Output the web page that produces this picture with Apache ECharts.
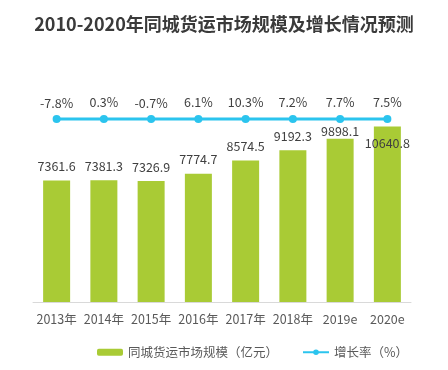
<!DOCTYPE html>
<html><head><meta charset="utf-8">
<script src="https://cdn.jsdelivr.net/npm/echarts@6/dist/echarts.min.js"></script>
<style>html,body{margin:0;padding:0;background:#fff}#c{width:448px;height:370px}</style>
</head><body><div id="c"></div>
<script>
const titleText = '2010-2020年同城货运市场规模及增长情况预测';
const categories = ['2013年','2014年','2015年','2016年','2017年','2018年','2019e','2020e'];
const marketSize = [7361.6, 7381.3, 7326.9, 7774.7, 8574.5, 9192.3, 9898.1, 10640.8];
const growthRate = [-7.8, 0.3, -0.7, 6.1, 10.3, 7.2, 7.7, 7.5];
const seriesNames = ['同城货运市场规模（亿元）', '增长率（%）'];

const FONT = '"Noto Sans CJK SC", "Microsoft YaHei", sans-serif';
const chart = echarts.init(document.getElementById('c'), null, {renderer: 'canvas'});

const barData = marketSize.map((v, i) => {
  const item = {value: v};
  if (i === 6) item.label = {distance: 1};
  if (i === 7) item.label = {position: 'insideTop', distance: 11};
  return item;
});

chart.setOption({
  backgroundColor: '#fff',
  animation: false,
  textStyle: {fontFamily: FONT},
  title: {
    text: titleText, left: 'center', top: 10,
    textStyle: {fontSize: 18, fontWeight: 'bold', color: '#3a3a3a', fontFamily: FONT}
  },
  legend: {
    left: 92, top: 341, itemWidth: 26, itemHeight: 7, itemGap: 24,
    textStyle: {fontSize: 12.5, color: '#595959', fontFamily: FONT},
    data: seriesNames
  },
  grid: [
    {left: 33, right: 37, top: 104, bottom: 68},
    {left: 33, right: 37, top: 118, height: 2}
  ],
  xAxis: [
    {type: 'category', gridIndex: 0, data: categories,
     axisLine: {lineStyle: {color: '#d9d9d9', width: 1}}, axisTick: {show: false},
     axisLabel: {interval: 0, fontSize: 12.5, color: '#595959', margin: 11, fontFamily: FONT}},
    {type: 'category', gridIndex: 1, data: categories, show: false}
  ],
  yAxis: [
    {type: 'value', gridIndex: 0, min: 0, max: 12000, show: false, splitLine: {show: false}},
    {type: 'value', gridIndex: 1, min: -100, max: 100, show: false, splitLine: {show: false}}
  ],
  series: [
    {name: seriesNames[0], type: 'bar', xAxisIndex: 0, yAxisIndex: 0, data: barData,
     barWidth: 27, itemStyle: {color: '#a9cb35'},
     label: {show: true, position: 'top', distance: 8, fontSize: 12.5, color: '#404040', fontFamily: FONT}},
    {name: seriesNames[1], type: 'line', xAxisIndex: 1, yAxisIndex: 1, data: growthRate,
     symbol: 'circle', symbolSize: 8, lineStyle: {color: '#2bc4ee', width: 3},
     itemStyle: {color: '#2bc4ee'},
     label: {show: true, position: 'top', distance: 6, fontSize: 12.5, color: '#404040', fontFamily: FONT,
             formatter: p => p.value.toFixed(1) + '%'}}
  ]
});
</script></body></html>
